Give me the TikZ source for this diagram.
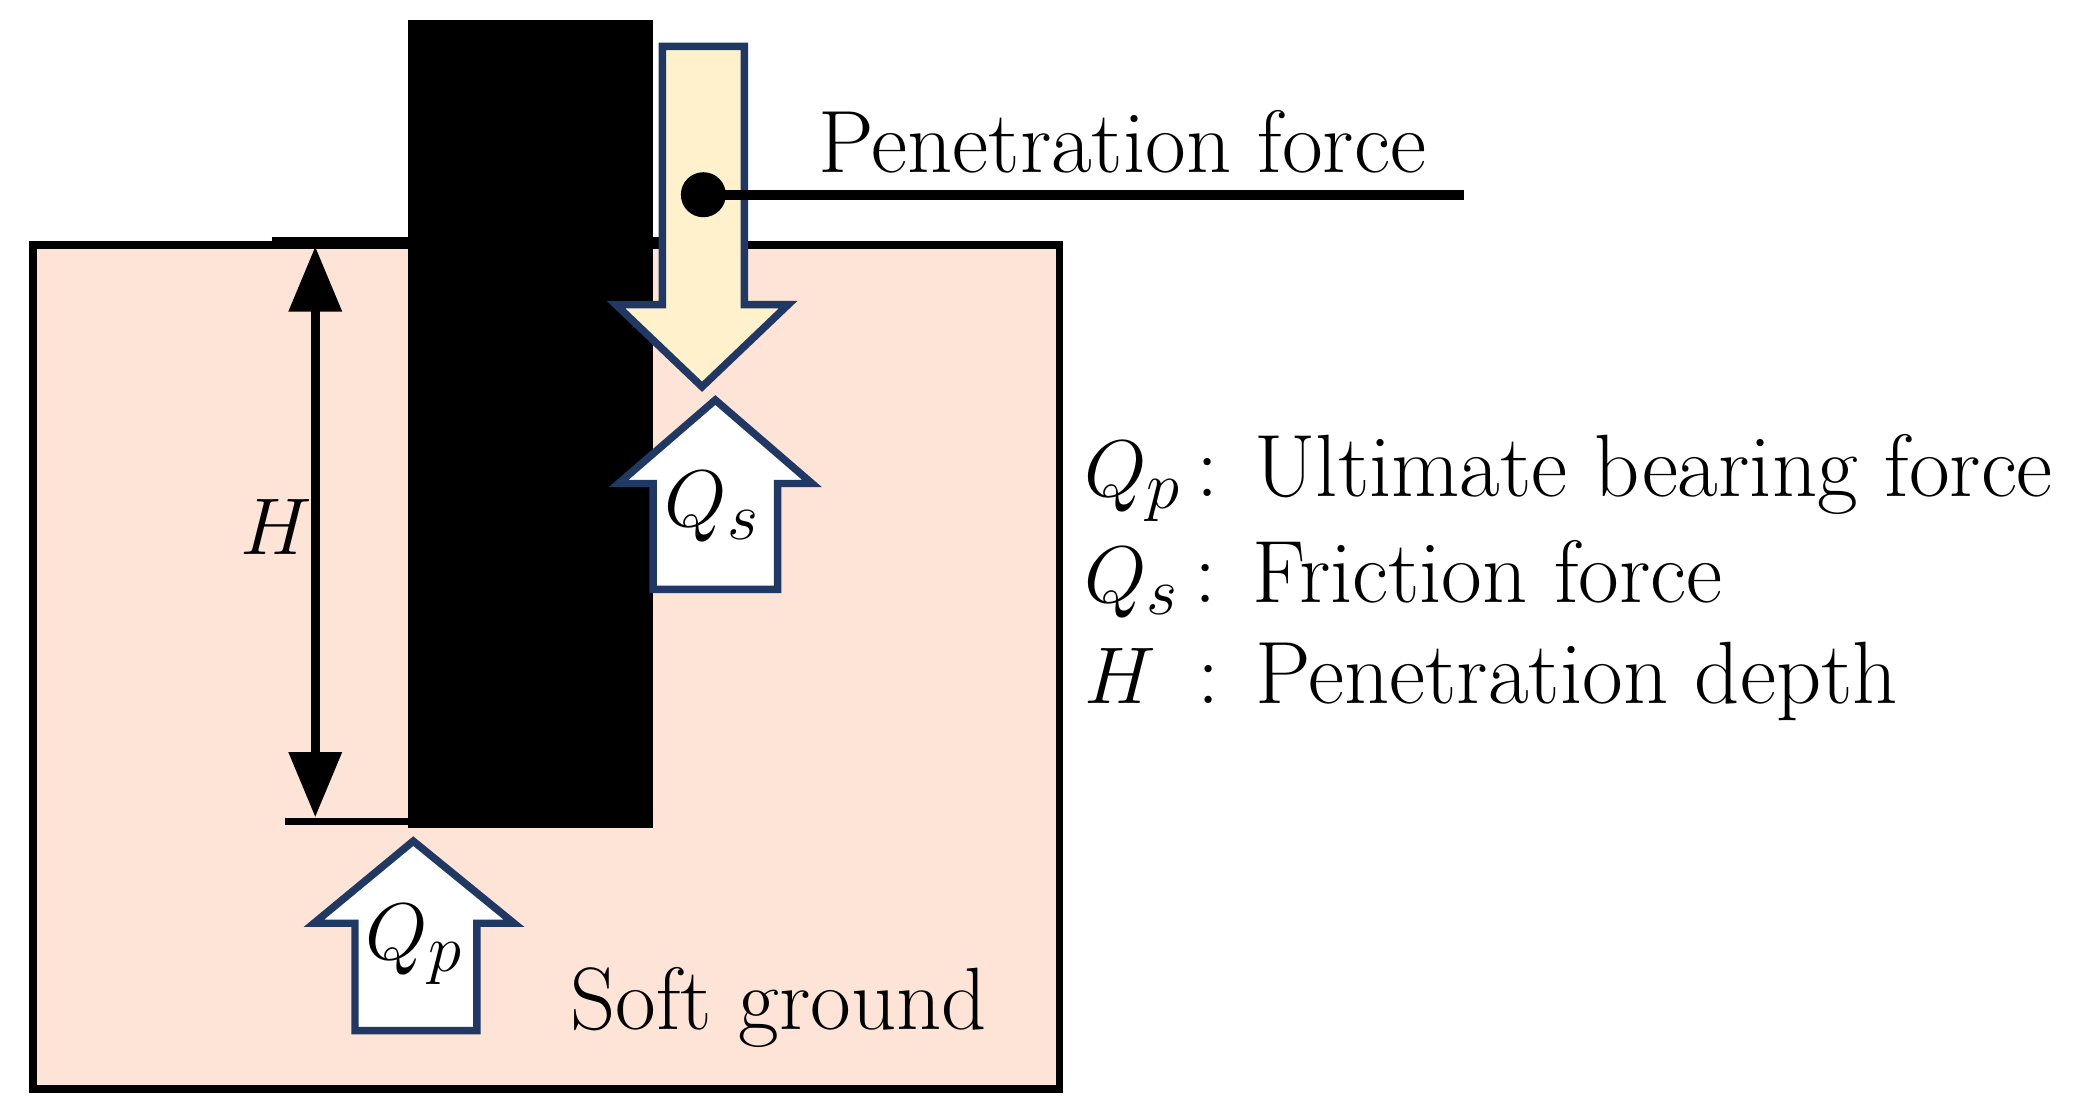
\documentclass[tikz,border=0pt]{standalone}
\usetikzlibrary{arrows.meta}
\definecolor{peach}{RGB}{253,228,214}
\definecolor{cream}{RGB}{255,241,204}
\definecolor{navy}{RGB}{31,56,100}
\tikzset{
  bigarrow/.style={draw=navy,line width=1.6pt,line join=miter},
  lbl/.style={font=\fontsize{19}{22}\selectfont,inner sep=0pt},
}
\begin{document}
\begin{tikzpicture}[x=0.01cm,y=-0.01cm]
\useasboundingbox (0,0) rectangle (1568,843);
% ground
\draw[fill=peach,line width=1.6pt] (25,185) rectangle (800,822);
% pile
\fill[black] (308,15) rectangle (493,625);
\draw[line width=1.6pt] (205,182) -- (308,182);
\draw[line width=1.6pt] (493,182) -- (500,182);
\draw[line width=1.6pt] (215,620) -- (308,620);
% H dimension
\coordinate (htop) at (238,186);
\coordinate (hbot) at (238,617);
\draw[line width=2pt,{Triangle[length=14pt,width=11pt]}-{Triangle[length=14pt,width=11pt]}] (htop) -- (hbot);
\node[lbl,anchor=east] (H) at (236,398) {$H$};
% penetration force arrow
\draw[bigarrow,fill=cream] (500,35) -- (562,35) -- (562,230) -- (595,230) -- (530,292) -- (465,230) -- (500,230) -- cycle;
\fill (531,147) circle (17);
\coordinate (pend) at (1105,147);
\draw[line width=2.2pt] (531,147) -- (pend);
\node[lbl,anchor=base west] (pf) at (617,130) {Penetration force};
% Qs arrow
\draw[bigarrow,fill=white] (540,302) -- (613,365) -- (587,365) -- (587,445) -- (493,445) -- (493,365) -- (467,365) -- cycle;
\node[lbl] (qs) at (538,383) {$Q_s$};
% Qp arrow
\draw[bigarrow,fill=white] (312,635) -- (388,697) -- (360,697) -- (360,778) -- (268,778) -- (268,697) -- (237,697) -- cycle;
\node[lbl] (qp) at (313,713) {$Q_p$};
% soft ground
\node[lbl,anchor=base west] (sg) at (430,777) {Soft ground};
% legend
\node[lbl,anchor=base west] (l1) at (818,375) {$Q_p$\,: Ultimate bearing force};
\node[lbl,anchor=base west] (l2) at (818,455) {$Q_s$\,: Friction force};
\node[lbl,anchor=base west] (l3) at (818,531) {$H$\ \,: Penetration depth};
\end{tikzpicture}
\end{document}
